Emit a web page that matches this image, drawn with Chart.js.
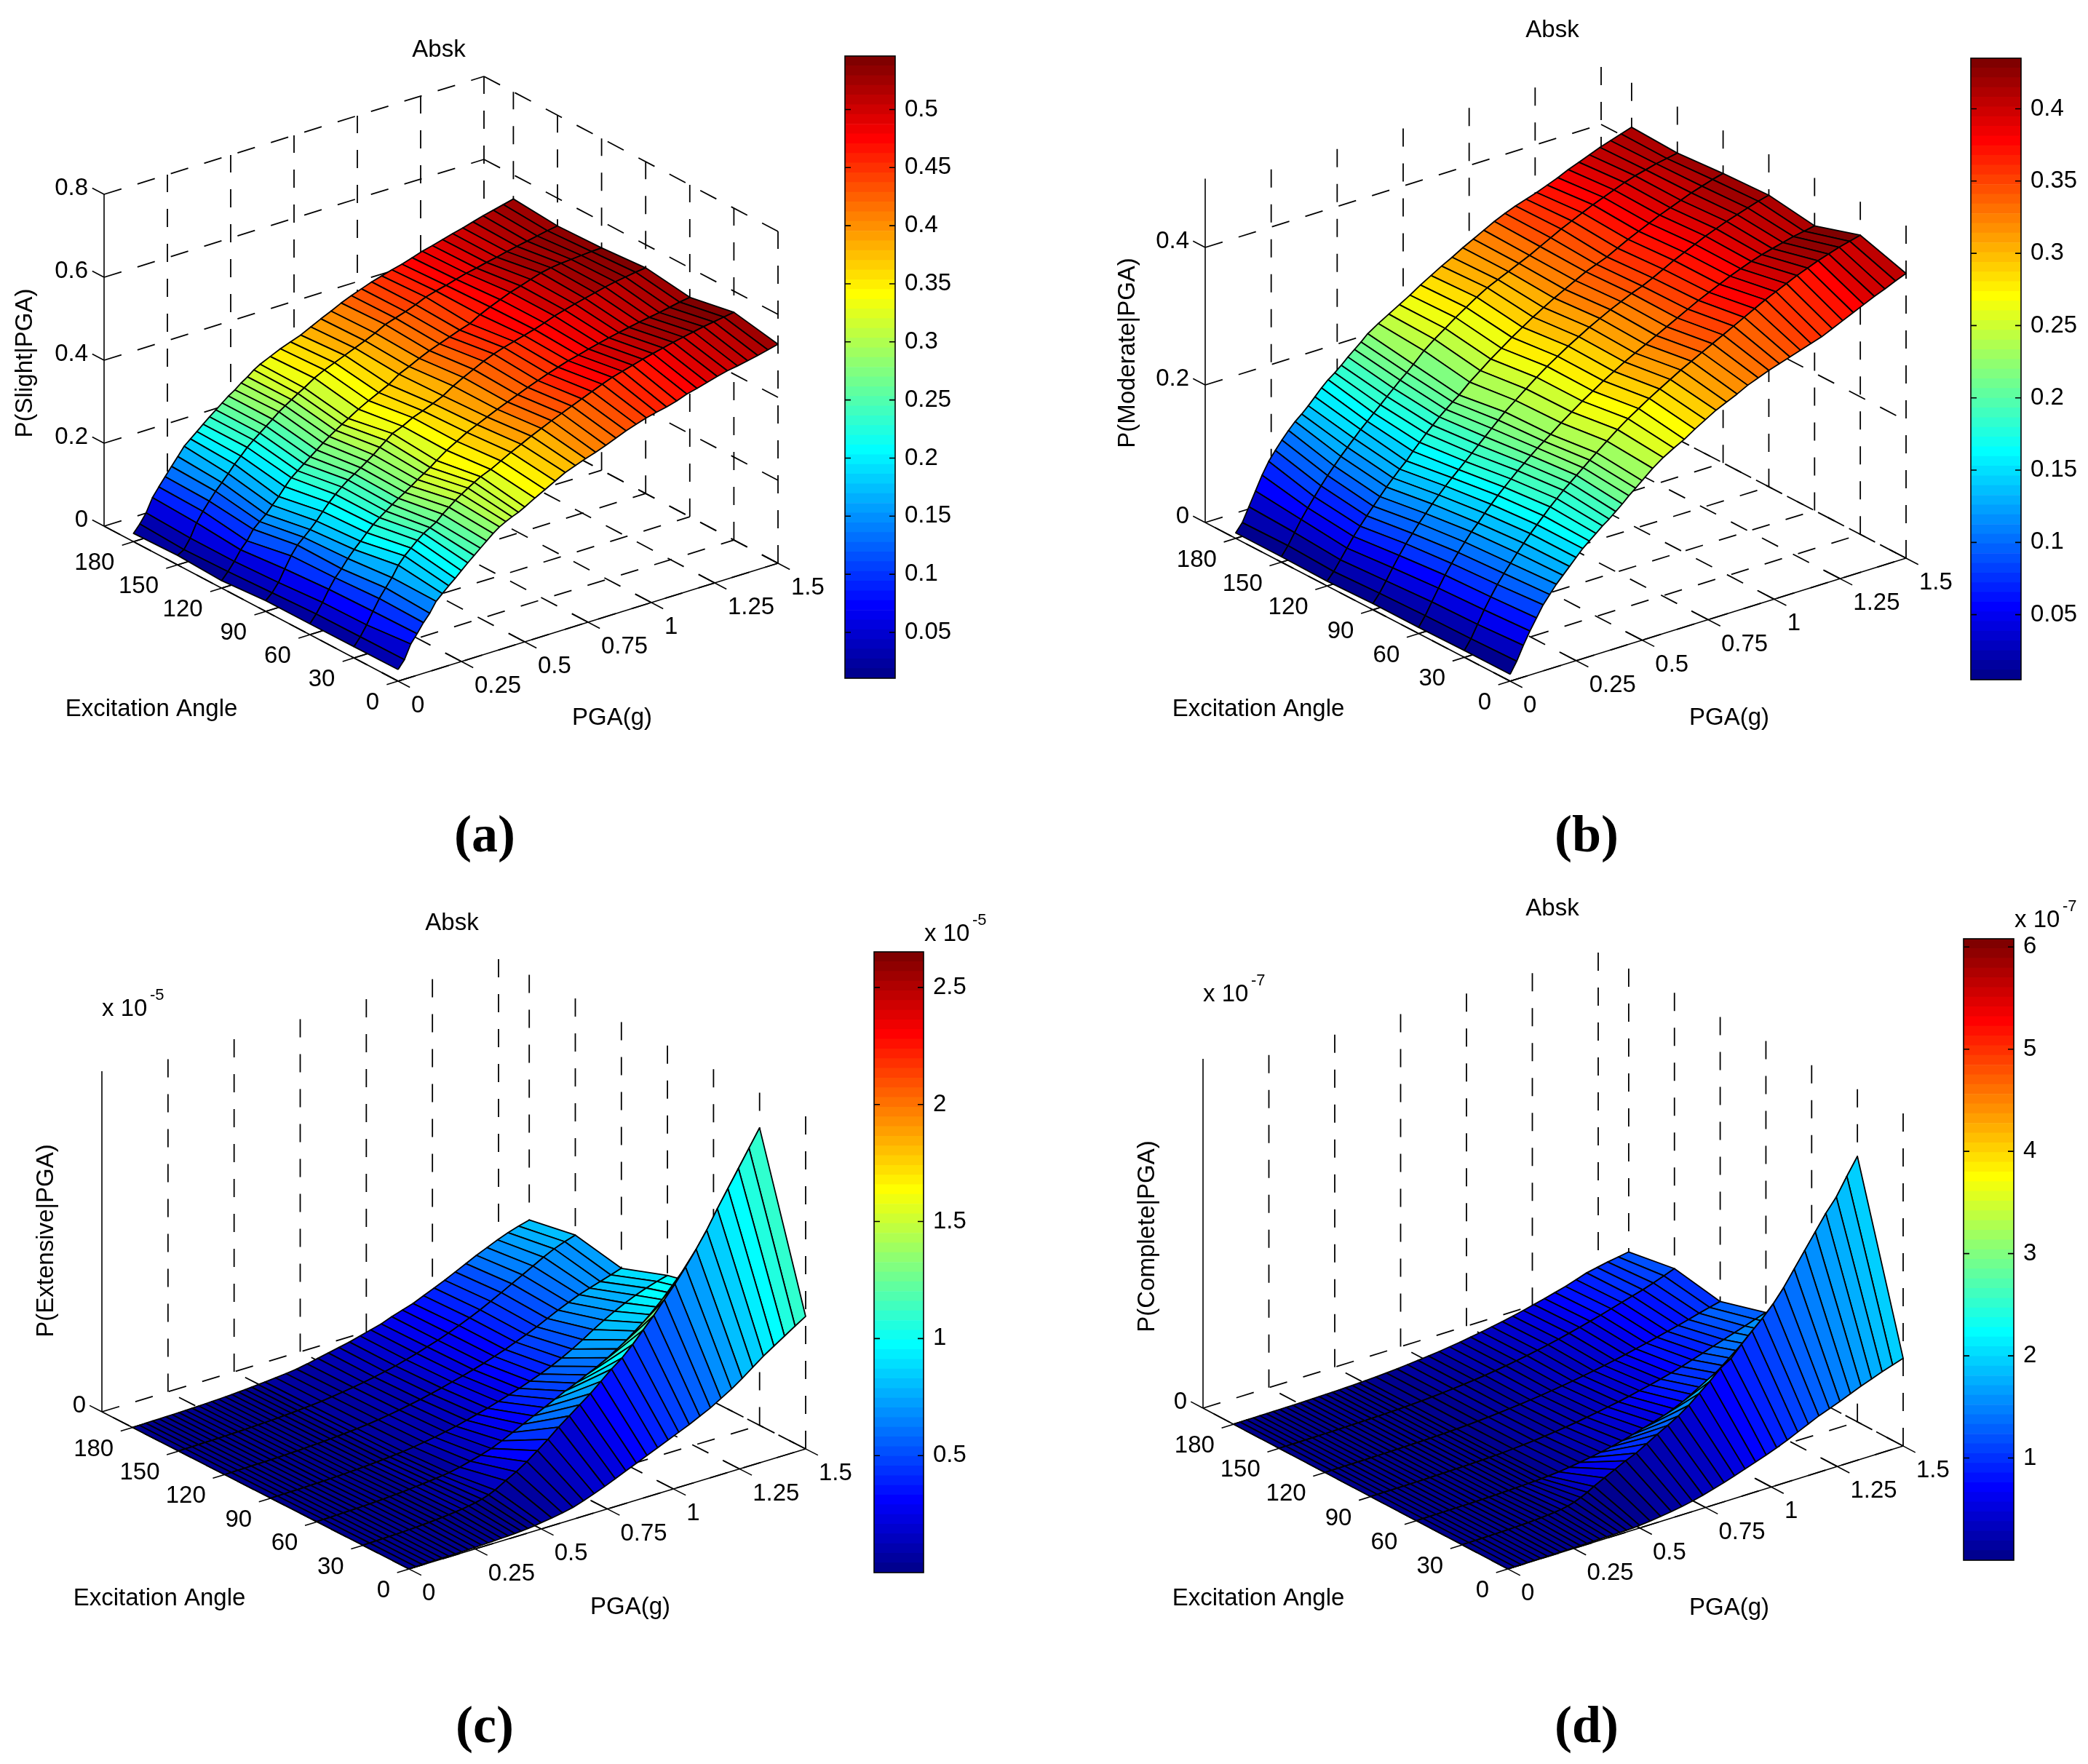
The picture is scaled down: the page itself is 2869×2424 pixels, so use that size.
<!DOCTYPE html>
<html><head><meta charset="utf-8">
<style>html,body{margin:0;padding:0;background:#fff;width:2869px;height:2424px;overflow:hidden}canvas{position:absolute;display:block}</style>
<script src="https://cdn.jsdelivr.net/npm/chart.js@4/dist/chart.umd.min.js"></script>
</head><body>
<script>
// ---- shared axes ----
const angles = [0,30,60,90,120,150,180];
const pgaGrid = [0,.025,.05,.075,.1,.125,.15,.175,.2,.225,.25,.275,.3,.325,.35,.375,.4,.425,.45,.475,.5,.54,.58,.62,.66,.7,.74,.78,.82,.86,.9,.94,.98,1.02,1.06,1.1,1.14,1.18,1.22,1.26,1.3,1.34,1.38,1.42,1.46,1.5];
const angleTicks = [0,30,60,90,120,150,180];
const pgaTicks = [0,.25,.5,.75,1,1.25,1.5];
// ---- P(Slight|PGA), one row per excitation angle ----
const slight = [
[.028,.047,.080,.100,.122,.140,.164,.178,.192,.205,.219,.233,.246,.259,.272,.285,.296,.304,.311,.317,.325,.339,.352,.365,.378,.387,.396,.404,.413,.423,.433,.441,.449,.455,.460,.467,.476,.482,.489,.496,.502,.506,.511,.516,.522,.528],
[.027,.046,.070,.098,.124,.145,.165,.190,.208,.222,.236,.248,.257,.266,.280,.292,.304,.314,.324,.333,.342,.352,.365,.378,.390,.402,.413,.424,.434,.444,.454,.464,.474,.483,.490,.497,.504,.510,.516,.522,.527,.532,.537,.541,.545,.549],
[.026,.045,.068,.095,.118,.135,.155,.172,.187,.203,.218,.230,.241,.252,.262,.272,.282,.293,.303,.313,.325,.342,.356,.370,.381,.392,.403,.413,.423,.433,.442,.451,.459,.467,.473,.480,.486,.492,.497,.502,.507,.511,.515,.520,.525,.529],
[.026,.040,.060,.088,.115,.136,.150,.164,.180,.198,.215,.230,.243,.255,.265,.275,.286,.297,.310,.322,.334,.344,.357,.366,.376,.387,.403,.416,.428,.440,.450,.458,.465,.472,.479,.487,.496,.503,.510,.516,.522,.528,.533,.537,.541,.544],
[.018,.035,.055,.078,.095,.118,.132,.145,.162,.178,.197,.214,.226,.238,.250,.262,.274,.285,.295,.305,.314,.329,.342,.354,.366,.383,.394,.406,.417,.426,.435,.444,.452,.466,.477,.487,.497,.505,.513,.521,.526,.529,.531,.533,.535,.536],
[.023,.032,.055,.087,.110,.130,.149,.165,.182,.200,.215,.231,.244,.256,.268,.280,.293,.303,.313,.323,.332,.348,.360,.370,.380,.390,.400,.411,.424,.432,.440,.449,.460,.467,.473,.480,.487,.492,.498,.503,.509,.514,.519,.524,.529,.533],
[.020,.038,.060,.092,.113,.133,.153,.172,.192,.205,.218,.231,.244,.256,.268,.280,.290,.302,.312,.324,.333,.344,.355,.364,.373,.385,.397,.408,.420,.430,.439,.448,.455,.462,.468,.476,.484,.490,.497,.504,.510,.517,.524,.530,.536,.542]];
// ---- P(Moderate|PGA) ----
const moderate = [
[.010,.026,.046,.064,.080,.096,.108,.120,.130,.140,.150,.160,.168,.176,.184,.191,.199,.207,.216,.224,.232,.245,.256,.265,.273,.283,.292,.301,.308,.315,.323,.329,.335,.340,.345,.350,.355,.360,.367,.374,.381,.388,.395,.401,.408,.414],
[.010,.024,.042,.060,.076,.091,.104,.116,.128,.139,.150,.160,.170,.180,.189,.198,.206,.214,.222,.230,.238,.250,.262,.273,.283,.293,.302,.311,.320,.328,.336,.344,.352,.360,.368,.376,.384,.391,.398,.405,.411,.417,.422,.427,.431,.435],
[.009,.023,.040,.057,.073,.087,.100,.112,.124,.134,.145,.155,.165,.174,.183,.192,.200,.208,.216,.223,.230,.242,.253,.264,.274,.284,.293,.302,.310,.318,.326,.334,.342,.350,.358,.365,.372,.379,.385,.391,.396,.400,.404,.408,.411,.414],
[.009,.021,.036,.052,.067,.081,.093,.105,.116,.127,.137,.147,.156,.165,.174,.183,.192,.201,.210,.219,.228,.240,.252,.264,.275,.285,.295,.304,.313,.321,.329,.336,.343,.349,.356,.364,.372,.379,.386,.393,.399,.405,.410,.415,.420,.424],
[.007,.018,.032,.046,.060,.072,.084,.095,.106,.117,.127,.137,.146,.157,.167,.177,.186,.195,.203,.211,.218,.232,.244,.256,.267,.278,.288,.298,.307,.316,.324,.332,.340,.346,.352,.360,.368,.375,.382,.389,.395,.401,.407,.412,.417,.421],
[.008,.021,.037,.053,.067,.080,.093,.105,.116,.127,.137,.147,.157,.166,.175,.184,.193,.202,.211,.219,.228,.243,.255,.266,.277,.287,.297,.306,.313,.320,.327,.334,.342,.350,.358,.365,.372,.379,.385,.391,.397,.402,.406,.410,.413,.416],
[.008,.020,.040,.060,.080,.097,.110,.122,.133,.143,.151,.160,.170,.180,.189,.196,.204,.213,.221,.229,.238,.248,.257,.266,.275,.285,.294,.303,.311,.320,.328,.336,.344,.351,.357,.362,.367,.373,.379,.386,.392,.398,.404,.409,.414,.419]];
// ---- P(Extensive|PGA), x 10^-5 ----
const extensive = [
[.002,.003,.004,.005,.006,.007,.008,.009,.010,.012,.014,.016,.018,.021,.024,.027,.030,.034,.039,.046,.055,.068,.085,.105,.135,.170,.205,.245,.285,.325,.365,.405,.445,.485,.525,.570,.615,.670,.725,.790,.860,.930,.990,1.050,1.110,1.167],
[.002,.003,.005,.006,.008,.010,.012,.015,.018,.022,.026,.030,.035,.041,.048,.055,.065,.075,.090,.110,.135,.190,.240,.300,.370,.440,.520,.590,.660,.730,.810,.890,.960,1.050,1.150,1.250,1.360,1.470,1.590,1.720,1.860,2.020,2.170,2.320,2.470,2.620],
[.002,.003,.004,.006,.008,.010,.012,.014,.017,.020,.023,.027,.031,.035,.040,.046,.052,.058,.065,.072,.080,.100,.125,.150,.180,.220,.265,.310,.355,.400,.445,.490,.530,.575,.620,.670,.720,.770,.820,.860,.900,.930,.955,.975,.990,1.000],
[.001,.002,.003,.004,.005,.006,.008,.009,.011,.013,.015,.018,.021,.024,.028,.032,.036,.041,.046,.052,.058,.070,.085,.100,.120,.140,.165,.190,.215,.245,.275,.305,.340,.375,.415,.460,.510,.565,.625,.680,.730,.775,.815,.850,.880,.905],
[.001,.002,.003,.004,.005,.006,.007,.008,.010,.012,.014,.016,.019,.022,.025,.029,.033,.037,.042,.047,.052,.062,.074,.088,.104,.122,.140,.162,.185,.210,.235,.262,.290,.322,.355,.392,.430,.470,.515,.560,.600,.640,.670,.700,.730,.760],
[.001,.002,.003,.004,.005,.006,.007,.008,.010,.012,.014,.016,.018,.021,.024,.027,.031,.035,.039,.044,.049,.058,.069,.082,.096,.112,.130,.150,.172,.198,.225,.255,.285,.320,.358,.398,.440,.487,.535,.585,.635,.685,.735,.780,.815,.845],
[.001,.002,.003,.004,.005,.006,.007,.008,.009,.011,.013,.015,.017,.020,.023,.026,.030,.034,.038,.043,.048,.057,.066,.077,.095,.115,.135,.155,.175,.200,.225,.250,.285,.315,.345,.385,.425,.465,.510,.555,.600,.640,.680,.715,.745,.770]];
// ---- P(Complete|PGA), x 10^-7 ----
const complete = [
[.003,.004,.005,.006,.007,.008,.010,.011,.013,.015,.017,.019,.021,.024,.027,.030,.033,.036,.041,.049,.060,.085,.115,.150,.190,.240,.300,.370,.440,.520,.600,.685,.770,.860,.960,1.070,1.180,1.290,1.380,1.470,1.570,1.670,1.760,1.850,1.930,2.010],
[.003,.005,.007,.009,.011,.014,.017,.021,.026,.032,.040,.048,.058,.070,.085,.105,.135,.180,.240,.310,.400,.520,.640,.760,.860,1.000,1.140,1.270,1.410,1.580,1.780,1.980,2.200,2.350,2.600,2.830,3.050,3.300,3.600,3.950,4.300,4.650,5.000,5.300,5.700,6.080],
[.002,.003,.004,.005,.007,.008,.010,.012,.014,.017,.020,.023,.027,.031,.036,.042,.048,.055,.063,.072,.082,.105,.135,.170,.210,.255,.305,.365,.430,.500,.570,.640,.720,.800,.880,.960,1.040,1.120,1.200,1.280,1.360,1.430,1.500,1.560,1.620,1.670],
[.002,.003,.004,.005,.006,.007,.008,.010,.012,.014,.016,.019,.022,.025,.029,.033,.038,.043,.049,.055,.062,.078,.096,.118,.142,.170,.200,.235,.275,.315,.360,.405,.455,.510,.565,.625,.690,.760,.840,.920,1.000,1.080,1.160,1.240,1.320,1.400],
[.002,.003,.004,.004,.005,.006,.007,.009,.010,.012,.014,.017,.020,.023,.026,.030,.034,.039,.044,.050,.056,.070,.086,.104,.124,.146,.170,.196,.225,.258,.292,.330,.370,.412,.458,.508,.560,.615,.670,.730,.790,.850,.910,.980,1.040,1.100],
[.002,.003,.004,.004,.005,.006,.007,.009,.011,.013,.015,.018,.021,.024,.028,.032,.036,.041,.046,.052,.058,.072,.088,.106,.126,.150,.176,.205,.238,.275,.315,.358,.405,.455,.510,.570,.630,.695,.760,.830,.900,.970,1.040,1.120,1.210,1.300],
[.002,.003,.004,.005,.006,.007,.008,.009,.010,.012,.014,.016,.019,.022,.025,.029,.033,.038,.043,.049,.055,.068,.084,.102,.125,.148,.172,.200,.232,.265,.305,.345,.390,.435,.485,.540,.600,.660,.725,.790,.870,.950,1.000,1.050,1.090,1.130]];
// ---- z and colour bar ticks ----
const zTicksSlight = [0,.2,.4,.6,.8];
const zTicksModerate = [0,.2,.4];
const zTicksExtensive = [0];
const zTicksComplete = [0];
const barTicksSlight = [.05,.1,.15,.2,.25,.3,.35,.4,.45,.5];
const barTicksModerate = [.05,.1,.15,.2,.25,.3,.35,.4];
const barTicksExtensive = [.5,1,1.5,2,2.5];
const barTicksComplete = [1,2,3,4,5,6];

// ---- panel layout (view parameters, page pixels) ----
const FONT = '"Liberation Sans", Arial, sans-serif';
const panels = [
 {z:slight, zTicks:zTicksSlight, zTop:.8, box:[0,0,1150,1220], O:[547,936], A:[-404,-213], P:[522,-162], zPx:570,
  title:['Absk',603,66], yl:['P(Slight|PGA)',35,499], xl:['Excitation Angle',208,972], pl:['PGA(g)',841,984], tag:['(a)',666,1148],
  cmin:.0105, cmax:.546, bar:[1161,77,69,855], barTicks:barTicksSlight},
 {z:moderate, zTicks:zTicksModerate, zTop:.5, box:[1440,0,1260,1220], O:[2075,936], A:[-419,-218], P:[544,-169], zPx:945,
  title:['Absk',2133,39], yl:['P(Moderate|PGA)',1550,485], xl:['Excitation Angle',1729,972], pl:['PGA(g)',2376,984], tag:['(b)',2180,1148],
  cmin:.005, cmax:.435, bar:[2708,80,69,854], barTicks:barTicksModerate},
 {z:extensive, zTicks:zTicksExtensive, zTop:3, box:[0,1220,1195,1204], O:[562,2156], A:[-422,-216], P:[545,-165], zPx:156,
  title:['Absk',621,1266], yl:['P(Extensive|PGA)',64,1705], xl:['Excitation Angle',219,2194], pl:['PGA(g)',866,2206], tag:['(c)',666,2372],
  cmin:0, cmax:2.652, bar:[1201,1308,68,853], barTicks:barTicksExtensive, exp:'-5', expAt:[140,1384], barExpAt:[1270,1281]},
 {z:complete, zTicks:zTicksComplete, zTop:8, box:[1500,1220,1190,1204], O:[2072,2156], A:[-419,-221], P:[543,-169], zPx:60,
  title:['Absk',2133,1246], yl:['P(Complete|PGA)',1577,1699], xl:['Excitation Angle',1729,2194], pl:['PGA(g)',2376,2207], tag:['(d)',2180,2372],
  cmin:0, cmax:6.08, bar:[2698,1290,69,854], barTicks:barTicksComplete, exp:'-7', expAt:[1653,1364], barExpAt:[2768,1262]}
];
const ANGLE_LIM = 200, PGA_LIM = 1.5;

function jet(t){ // MATLAB jet(64), t in 1/64..1
  const c=v=>Math.round(255*Math.max(0,Math.min(1,v)));
  return `rgb(${c(1.5-Math.abs(4*t-3))},${c(1.5-Math.abs(4*t-2))},${c(1.5-Math.abs(4*t-1))})`;
}
function colorOf(v,p){
  let i=Math.floor((v-p.cmin)/(p.cmax-p.cmin)*64); i=Math.max(0,Math.min(63,i));
  return jet((i+1)/64);
}
function project(p,a,g,z){
  return {x:p.O[0]+a/ANGLE_LIM*p.A[0]+g/PGA_LIM*p.P[0], y:p.O[1]+a/ANGLE_LIM*p.A[1]+g/PGA_LIM*p.P[1]-z*p.zPx};
}
function lineDs(pts,opts){
  return Object.assign({type:'line',data:pts,pointRadius:0,borderColor:'#000',borderWidth:1.6,fill:false,tension:0,clip:false,borderCapStyle:'butt'},opts||{});
}
const DASH={borderDash:[25,23],borderWidth:1.8};
function buildDatasets(p){
  const back=[]; // painted first
  const zs=p.zTicks;
  // wall & floor grid
  for(const z of zs){
    back.push(lineDs([project(p,ANGLE_LIM,0,z),project(p,ANGLE_LIM,PGA_LIM,z)],DASH));
    back.push(lineDs([project(p,ANGLE_LIM,PGA_LIM,z),project(p,0,PGA_LIM,z)],DASH));
  }
  for(const g of pgaTicks){
    if(g>0) back.push(lineDs([project(p,ANGLE_LIM,g,0),project(p,ANGLE_LIM,g,p.zTop)],DASH));
    back.push(lineDs([project(p,0,g,0),project(p,ANGLE_LIM,g,0)],DASH));
  }
  for(const a of angleTicks){
    back.push(lineDs([project(p,a,PGA_LIM,0),project(p,a,PGA_LIM,p.zTop)],DASH));
    back.push(lineDs([project(p,a,0,0),project(p,a,PGA_LIM,0)],DASH));
  }
  // solid axes and ticks
  back.push(lineDs([project(p,ANGLE_LIM,0,0),project(p,ANGLE_LIM,0,p.zTop)]));
  back.push(lineDs([project(p,0,0,0),project(p,ANGLE_LIM,0,0)]));
  back.push(lineDs([project(p,0,0,0),project(p,0,PGA_LIM,0)]));
  for(const a of angleTicks) back.push(lineDs([project(p,a,-.045,0),project(p,a,.055,0)]));
  for(const g of pgaTicks) back.push(lineDs([project(p,-8,g,0),project(p,11,g,0)]));
  for(const z of zs) back.push(lineDs([project(p,ANGLE_LIM,0,z),project(p,ANGLE_LIM+8,0,z)]));
  // surface cells, far to near
  for(let k=angles.length-2;k>=0;k--){
    for(let i=pgaGrid.length-2;i>=0;i--){
      const a0=angles[k],a1=angles[k+1],g0=pgaGrid[i],g1=pgaGrid[i+1],Z=p.z;
      const pts=[project(p,a0,g0,Z[k][i]),project(p,a0,g1,Z[k][i+1]),project(p,a1,g1,Z[k+1][i+1]),project(p,a1,g0,Z[k+1][i]),project(p,a0,g0,Z[k][i])];
      back.push(lineDs(pts,{fill:'shape',backgroundColor:colorOf(Z[k][i],p),borderWidth:1.8,borderJoinStyle:'round'}));
    }
  }
  return back.reverse(); // Chart.js paints the first dataset last
}
function text(ctx,s,x,y,align,font,rot){
  ctx.save(); ctx.fillStyle='#000'; ctx.font=font; ctx.textAlign=align||'center'; ctx.textBaseline='middle';
  ctx.translate(x,y+(rot?0:3)); if(rot) ctx.rotate(rot); ctx.fillText(s,0,0); ctx.restore();
}
function fmt(v){return String(v);}
function makeCanvas(l,t,w,h){
  const c=document.createElement('canvas'); c.width=w;c.height=h;
  c.style.left=l+'px';c.style.top=t+'px';c.style.width=w+'px';c.style.height=h+'px';
  document.body.appendChild(c); return c;
}
const F=`33px ${FONT}`;
panels.forEach(p=>{
  const [l,t,w,h]=p.box;
  const labels={id:'labels',afterDraw(chart){
    const ctx=chart.ctx; ctx.save(); ctx.translate(-l,-t);
    for(const a of angleTicks){const q=project(p,a,0,0);text(ctx,fmt(a),q.x-26,q.y+27,'right',F);}
    for(const g of pgaTicks){const q=project(p,0,g,0);text(ctx,fmt(g),q.x+18,q.y+31,'left',F);}
    for(const z of p.zTicks){const q=project(p,ANGLE_LIM,0,z);text(ctx,fmt(z),q.x-22,q.y-11,'right',F);}
    text(ctx,p.title[0],p.title[1],p.title[2],'center',F);
    text(ctx,p.xl[0],p.xl[1],p.xl[2],'center',F);
    text(ctx,p.pl[0],p.pl[1],p.pl[2],'center',F);
    text(ctx,p.yl[0],p.yl[1],p.yl[2],'center',F,-Math.PI/2);
    text(ctx,p.tag[0],p.tag[1],p.tag[2],'center',`bold 72px "Liberation Serif", serif`);
    if(p.exp){
      text(ctx,'x 10',p.expAt[0],p.expAt[1],'left',F);
      text(ctx,p.exp,p.expAt[0]+66,p.expAt[1]-19,'left',`22px ${FONT}`);
    }
    ctx.restore();
  }};
  new Chart(makeCanvas(l,t,w,h),{
    type:'line',
    data:{datasets:buildDatasets(p)},
    options:{responsive:false,animation:false,devicePixelRatio:1,events:[],layout:{padding:0},
      plugins:{legend:{display:false},tooltip:{enabled:false},filler:{propagate:false}},
      scales:{x:{type:'linear',display:false,min:l,max:l+w},y:{type:'linear',display:false,min:t,max:t+h,reverse:true}}},
    plugins:[labels]
  });
  // colour bar
  const [bx,by,bw,bh]=p.bar, padT=70,padB=20,padL=10,right=Math.min(150,2869-bx-bw);
  const bins=[];
  for(let i=0;i<64;i++){
    const lo=p.cmin+(p.cmax-p.cmin)*i/64, hi=p.cmin+(p.cmax-p.cmin)*(i+1)/64;
    bins.push({label:'',data:[[lo,hi]],backgroundColor:jet((i+1)/64),borderWidth:0,barPercentage:1,categoryPercentage:1,grouped:false,borderSkipped:false});
  }
  const frame={id:'frame',afterDraw(chart){
    const ctx=chart.ctx,a=chart.chartArea,s=chart.scales.y;
    ctx.save(); ctx.strokeStyle='#000'; ctx.lineWidth=1.6;
    ctx.strokeRect(a.left,a.top,a.right-a.left,a.bottom-a.top);
    ctx.beginPath();
    for(const v of p.barTicks){const y=s.getPixelForValue(v);ctx.moveTo(a.left,y);ctx.lineTo(a.left+8,y);ctx.moveTo(a.right,y);ctx.lineTo(a.right-8,y);}
    ctx.stroke();
    if(p.exp){
      ctx.translate(-(bx-padL),-(by-padT));
      text(ctx,'x 10',p.barExpAt[0],p.barExpAt[1],'left',F);
      text(ctx,p.exp,p.barExpAt[0]+66,p.barExpAt[1]-19,'left',`22px ${FONT}`);
    }
    ctx.restore();
  }};
  new Chart(makeCanvas(bx-padL,by-padT,padL+bw+right,padT+bh+padB),{
    type:'bar',
    data:{labels:[''],datasets:bins},
    options:{responsive:false,animation:false,devicePixelRatio:1,events:[],
      layout:{padding:{top:padT,bottom:padB,left:padL,right:0}},
      plugins:{legend:{display:false},tooltip:{enabled:false}},
      scales:{
        x:{display:false,stacked:false},
        y:{position:'right',min:p.cmin,max:p.cmax,
           afterBuildTicks:s=>{s.ticks=p.barTicks.map(v=>({value:v}));},
           afterFit:s=>{s.width=right;s.paddingTop=0;s.paddingBottom=0;},
           grid:{display:false},border:{display:false},
           ticks:{autoSkip:false,padding:5,color:'#000',font:{family:'Liberation Sans',size:33},callback:v=>fmt(v),maxRotation:0}}
      }},
    plugins:[frame]
  });
});
</script>
</body></html>
